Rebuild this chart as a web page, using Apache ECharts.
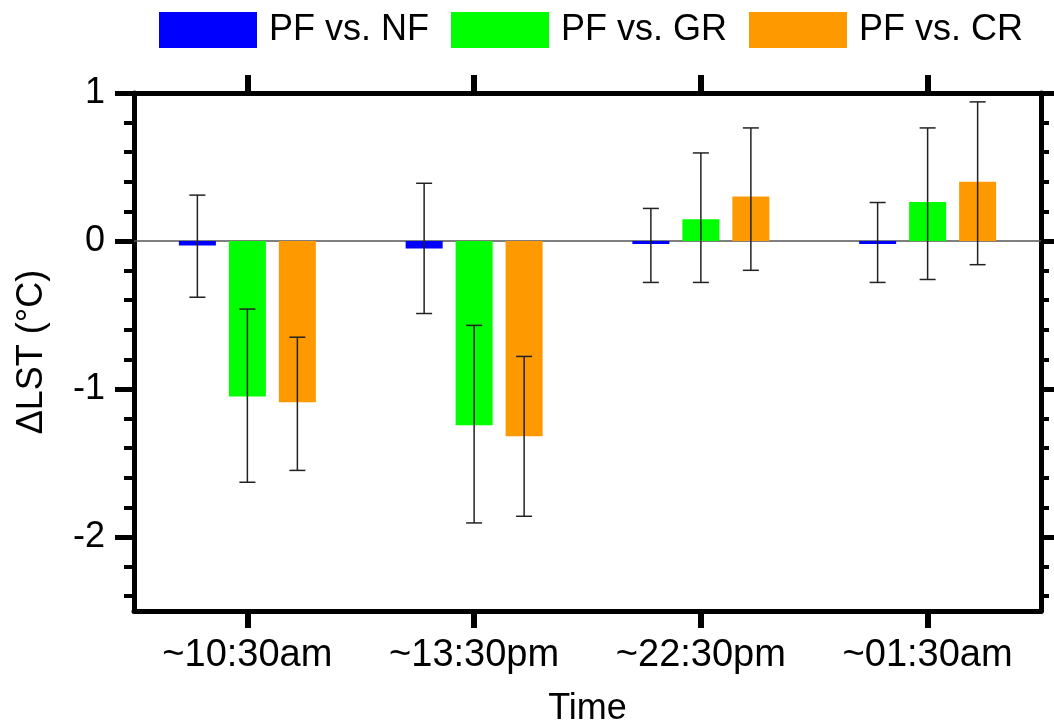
<!DOCTYPE html>
<html>
<head>
<meta charset="utf-8">
<script src="https://cdn.jsdelivr.net/npm/echarts@6/dist/echarts.min.js"></script>
<style>html,body{margin:0;padding:0;background:#fff;}#c{width:1054px;height:726px;}</style>
</head>
<body>
<div id="c"></div>
<script>
var categories = ['~10:30am', '~13:30pm', '~22:30pm', '~01:30am'];
var seriesNames = ['PF vs. NF', 'PF vs. GR', 'PF vs. CR'];
var nfValues = [-0.03, -0.05, -0.02, -0.02];
var nfUpper = [0.31, 0.39, 0.22, 0.26];
var nfLower = [-0.38, -0.49, -0.28, -0.28];
var grValues = [-1.05, -1.245, 0.147, 0.264];
var grUpper = [-0.46, -0.57, 0.595, 0.764];
var grLower = [-1.63, -1.905, -0.28, -0.26];
var crValues = [-1.09, -1.32, 0.30, 0.40];
var crUpper = [-0.65, -0.78, 0.764, 0.94];
var crLower = [-1.55, -1.86, -0.198, -0.16];
var yMajorTicks = [-2, -1, 0, 1];
var yMinorTicks = [-2.4, -2.2, -1.8, -1.6, -1.4, -1.2, -0.8, -0.6, -0.4, -0.2, 0.2, 0.4, 0.6, 0.8];
var yMin = -2.5, yMax = 1;

var colors = ['#0000FF', '#00FF00', '#FF9900'];
var FONT = "'Liberation Sans', Arial, sans-serif";
var BAR_W = 37, BAR_GAP = 13;

var chart = echarts.init(document.getElementById('c'), null, {renderer: 'canvas'});

function errSeries(idx, upper, lower) {
  var data = upper.map(function (u, i) { return [i, u, lower[i]]; });
  return {
    type: 'custom',
    xAxisIndex: 0, yAxisIndex: 0,
    z: 10,
    silent: true,
    data: data,
    encode: {x: 0, y: [1, 2]},
    renderItem: function (params, api) {
      var cat = api.value(0);
      var hi = api.coord([cat, api.value(1)]);
      var lo = api.coord([cat, api.value(2)]);
      var x = hi[0] + (idx - 1) * (BAR_W + BAR_GAP);
      var cap = 8;
      var st = {stroke: '#222', lineWidth: 1.5};
      return {
        type: 'group',
        children: [
          {type: 'line', shape: {x1: x, y1: hi[1], x2: x, y2: lo[1]}, style: st},
          {type: 'line', shape: {x1: x - cap, y1: hi[1], x2: x + cap, y2: hi[1]}, style: st},
          {type: 'line', shape: {x1: x - cap, y1: lo[1], x2: x + cap, y2: lo[1]}, style: st}
        ]
      };
    }
  };
}

function barSeries(idx, values) {
  var s = {
    name: seriesNames[idx],
    type: 'bar',
    xAxisIndex: 0, yAxisIndex: 0,
    barWidth: BAR_W,
    barGap: (BAR_GAP / BAR_W * 100).toFixed(1) + '%',
    itemStyle: {color: colors[idx]},
    data: values
  };
  if (idx === 0) {
    s.markLine = {
      silent: true,
      symbol: ['none', 'none'],
      label: {show: false},
      lineStyle: {color: '#555', width: 1.5, type: 'solid'},
      data: [{yAxis: 0}],
      z: 1
    };
  }
  return s;
}

var option = {
  backgroundColor: '#fff',
  animation: false,
  textStyle: {fontFamily: FONT},
  legend: {
    data: seriesNames,
    left: 154, top: 7,
    icon: 'rect',
    itemWidth: 98, itemHeight: 36, itemGap: 22,
    textStyle: {fontSize: 36, color: '#000', fontFamily: FONT, padding: [0, 0, 0, 7]}
  },
  grid: {left: 134, right: 13, top: 93, bottom: 115, outerBoundsMode: 'none', containLabel: false},
  xAxis: [
    {
      type: 'category', position: 'bottom', data: categories,
      name: 'Time', nameLocation: 'middle', nameGap: 80,
      nameTextStyle: {fontSize: 36, color: '#000', fontFamily: FONT},
      axisLine: {show: true, onZero: false, lineStyle: {color: '#000', width: 5}},
      axisTick: {show: true, alignWithLabel: true, interval: 0, length: 17, lineStyle: {color: '#000', width: 6}},
      axisLabel: {fontSize: 38, color: '#000', margin: 26, fontFamily: FONT},
      splitLine: {show: false}
    },
    {
      type: 'category', position: 'top', data: categories,
      axisLine: {show: true, onZero: false, lineStyle: {color: '#000', width: 5}},
      axisTick: {show: true, alignWithLabel: true, interval: 0, length: 18, lineStyle: {color: '#000', width: 6}},
      axisLabel: {show: false},
      splitLine: {show: false}
    }
  ],
  yAxis: [
    {
      type: 'value', position: 'left', min: yMin, max: yMax,
      name: 'ΔLST (°C)', nameLocation: 'middle', nameGap: 84, nameRotate: 90,
      nameTextStyle: {fontSize: 36, color: '#000', fontFamily: FONT},
      axisLine: {show: true, onZero: false, lineStyle: {color: '#000', width: 5}},
      axisTick: {show: true, customValues: yMajorTicks, length: 19, lineStyle: {color: '#000', width: 5}},
      axisLabel: {customValues: yMajorTicks, fontSize: 36, color: '#000', margin: 29, fontFamily: FONT},
      splitLine: {show: false}
    },
    {
      type: 'value', position: 'left', min: yMin, max: yMax,
      axisLine: {show: false, onZero: false},
      axisTick: {show: true, customValues: yMinorTicks, length: 10, lineStyle: {color: '#000', width: 4}},
      axisLabel: {show: false},
      splitLine: {show: false}
    },
    {
      type: 'value', position: 'right', min: yMin, max: yMax,
      axisLine: {show: true, onZero: false, lineStyle: {color: '#000', width: 5}},
      axisTick: {show: true, customValues: yMajorTicks, length: 13, lineStyle: {color: '#000', width: 5}},
      axisLabel: {show: false},
      splitLine: {show: false}
    },
    {
      type: 'value', position: 'right', min: yMin, max: yMax,
      axisLine: {show: false, onZero: false},
      axisTick: {show: true, customValues: yMinorTicks, length: 8, lineStyle: {color: '#000', width: 4}},
      axisLabel: {show: false},
      splitLine: {show: false}
    }
  ],
  series: [
    barSeries(0, nfValues),
    barSeries(1, grValues),
    barSeries(2, crValues),
    errSeries(0, nfUpper, nfLower),
    errSeries(1, grUpper, grLower),
    errSeries(2, crUpper, crLower)
  ]
};
chart.setOption(option);
</script>
</body>
</html>
